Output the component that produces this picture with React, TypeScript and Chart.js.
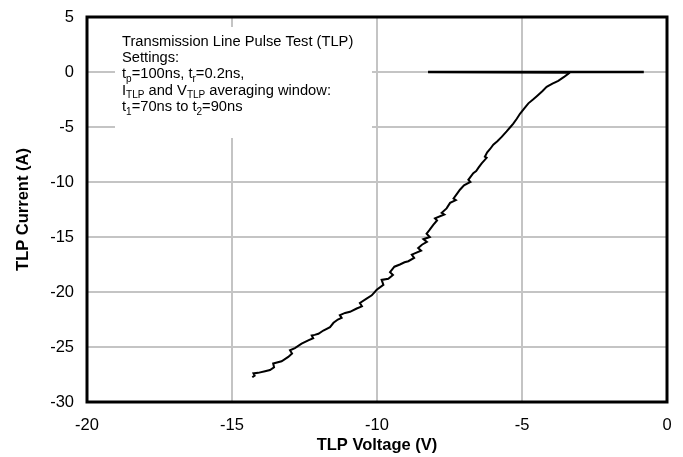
import React, { useEffect, useRef } from "react";
import { Chart, registerables } from "chart.js";

Chart.register(...registerables);

// Flat segment at I ≈ 0 (low-current points)
const flatV = [-0.8, -8.24, -3.35];
const flatI = [0.0, 0.0, -0.05];

// Main TLP curve (V, A)
const curveV = [
  -3.35, -3.4, -3.55, -3.75, -3.95, -4.15, -4.3, -4.49, -4.62, -4.78, -4.92, -5.07, -5.18, -5.3, -5.4,
  -5.53, -5.7, -5.85, -5.99, -6.1, -6.2, -6.28, -6.22, -6.39, -6.5, -6.58, -6.68, -6.85, -6.78, -7.0,
  -7.14, -7.25, -7.36, -7.28, -7.48, -7.6, -7.77, -7.68, -8.0, -7.93, -8.06, -8.2, -8.29, -8.18, -8.4,
  -8.28, -8.45, -8.58, -8.48, -8.8, -8.72, -8.92, -9.05, -9.21, -9.4, -9.55, -9.45, -9.61, -9.84, -9.78, -10.01, -10.18,
  -10.36, -10.59, -10.52, -10.7, -10.93, -11.1, -11.28, -11.22, -11.35, -11.5, -11.62, -11.85, -12.02, -12.15,
  -12.25, -12.2, -12.37, -12.6, -12.83, -13.0, -12.93, -13.06, -13.29, -13.58, -13.55, -13.69, -13.86, -14.1,
  -14.26, -14.22, -14.3,
];
const curveI = [
  -0.05, -0.15, -0.45, -0.8, -1.05, -1.35, -1.75, -2.2, -2.5, -2.85, -3.3, -3.8, -4.25, -4.7, -5.0,
  -5.4, -5.9, -6.3, -6.6, -7.0, -7.3, -7.7, -7.8, -8.3, -8.7, -9.0, -9.2, -9.8, -10.0, -10.3,
  -10.7, -11.1, -11.5, -11.65, -11.9, -12.4, -12.8, -12.95, -13.3, -13.5, -13.9, -14.4, -14.7, -15.0, -15.2,
  -15.45, -15.7, -16.0, -16.25, -16.6, -16.9, -17.2, -17.3, -17.5, -17.7, -18.2, -18.45, -18.8, -18.9, -19.35, -19.8, -20.3,
  -20.6, -21.0, -21.3, -21.5, -21.8, -21.9, -22.1, -22.35, -22.5, -22.8, -23.2, -23.5, -23.8, -23.9,
  -23.95, -24.2, -24.4, -24.7, -25.1, -25.3, -25.6, -25.9, -26.3, -26.5, -26.85, -27.1, -27.2, -27.35,
  -27.4, -27.6, -27.75,
];

const xTitle = "TLP Voltage (V)";
const yTitle = "TLP Current (A)";
const xMin = -20, xMax = 0, xStep = 5;
const yMin = -30, yMax = 5, yStep = 5;

// Annotation lines: runs of [text, isSubscript]
const noteLines: [string, boolean][][] = [
  [["Transmission Line Pulse Test (TLP)", false]],
  [["Settings:", false]],
  [["t", false], ["p", true], ["=100ns, t", false], ["r", true], ["=0.2ns,", false]],
  [["I", false], ["TLP", true], [" and V", false], ["TLP", true], [" averaging window:", false]],
  [["t", false], ["1", true], ["=70ns to t", false], ["2", true], ["=90ns", false]],
];

const FONT = "'Liberation Sans', Arial, Helvetica, sans-serif";

const pts = (xs: number[], ys: number[]) => xs.map((x, i) => ({ x, y: ys[i] }));

const notePlugin = {
  id: "notePlugin",
  beforeDatasetsDraw(chart: any) {
    const { ctx, chartArea } = chart;
    const l = chartArea.left, t = chartArea.top;
    ctx.save();
    ctx.fillStyle = "#ffffff";
    ctx.fillRect(l + 28, t + 10, 257, 111);
    ctx.fillStyle = "#000000";
    ctx.textBaseline = "alphabetic";
    ctx.textAlign = "left";
    noteLines.forEach((line, i) => {
      let x = l + 35;
      const y = t + 28.5 + i * 16.4;
      line.forEach(([txt, sub]) => {
        ctx.font = sub ? `10px ${FONT}` : `14.7px ${FONT}`;
        ctx.fillText(txt, x, y + (sub ? 3.5 : 0));
        x += ctx.measureText(txt).width;
      });
    });
    ctx.restore();
  },
  afterDraw(chart: any) {
    const { ctx, chartArea } = chart;
    ctx.save();
    ctx.strokeStyle = "#000000";
    ctx.lineWidth = 3;
    ctx.strokeRect(chartArea.left, chartArea.top, chartArea.right - chartArea.left, chartArea.bottom - chartArea.top);
    ctx.restore();
  },
};

export default function App() {
  const ref = useRef<HTMLCanvasElement>(null);
  useEffect(() => {
    if (!ref.current) return;
    const chart = new Chart(ref.current, {
      type: "scatter",
      data: {
        datasets: [
          {
            data: pts(flatV, flatI),
            showLine: true,
            borderColor: "#000000",
            borderWidth: 2.5,
            pointRadius: 0,
            tension: 0,
          },
          {
            data: pts(curveV, curveI),
            showLine: true,
            borderColor: "#000000",
            borderWidth: 2,
            pointRadius: 0,
            tension: 0,
          },
        ],
      },
      options: {
        animation: false,
        responsive: true,
        maintainAspectRatio: false,
        layout: { padding: { top: 17, right: 16, left: 0, bottom: 0 } },
        plugins: { legend: { display: false }, tooltip: { enabled: false } },
        scales: {
          x: {
            type: "linear",
            min: xMin,
            max: xMax,
            ticks: { stepSize: xStep, color: "#000", font: { family: FONT, size: 16.5 }, padding: 14 },
            grid: { color: "#c4c4c4", lineWidth: 2, drawTicks: false },
            border: { display: false },
            title: { display: true, text: xTitle, color: "#000", font: { family: FONT, size: 16.5, weight: "bold" }, padding: { top: 0, bottom: 2 } },
            afterFit: (s: any) => { s.height = 55; s.paddingLeft = 0; s.paddingRight = 0; },
          },
          y: {
            type: "linear",
            min: yMin,
            max: yMax,
            ticks: { stepSize: yStep, color: "#000", font: { family: FONT, size: 16.5 }, padding: 13 },
            grid: { color: "#c4c4c4", lineWidth: 2, drawTicks: false },
            border: { display: false },
            title: { display: true, text: yTitle, color: "#000", font: { family: FONT, size: 16.5, weight: "bold" }, padding: { top: 14, bottom: 0 } },
            afterFit: (s: any) => { s.width = 87; s.paddingTop = 0; s.paddingBottom = 0; },
          },
        },
      },
      plugins: [notePlugin],
    });
    return () => chart.destroy();
  }, []);
  return (
    <div style={{ position: "fixed", left: 0, top: 0, width: 683, height: 457, background: "#fff" }}>
      <canvas ref={ref} style={{ width: "100%", height: "100%" }} />
    </div>
  );
}
